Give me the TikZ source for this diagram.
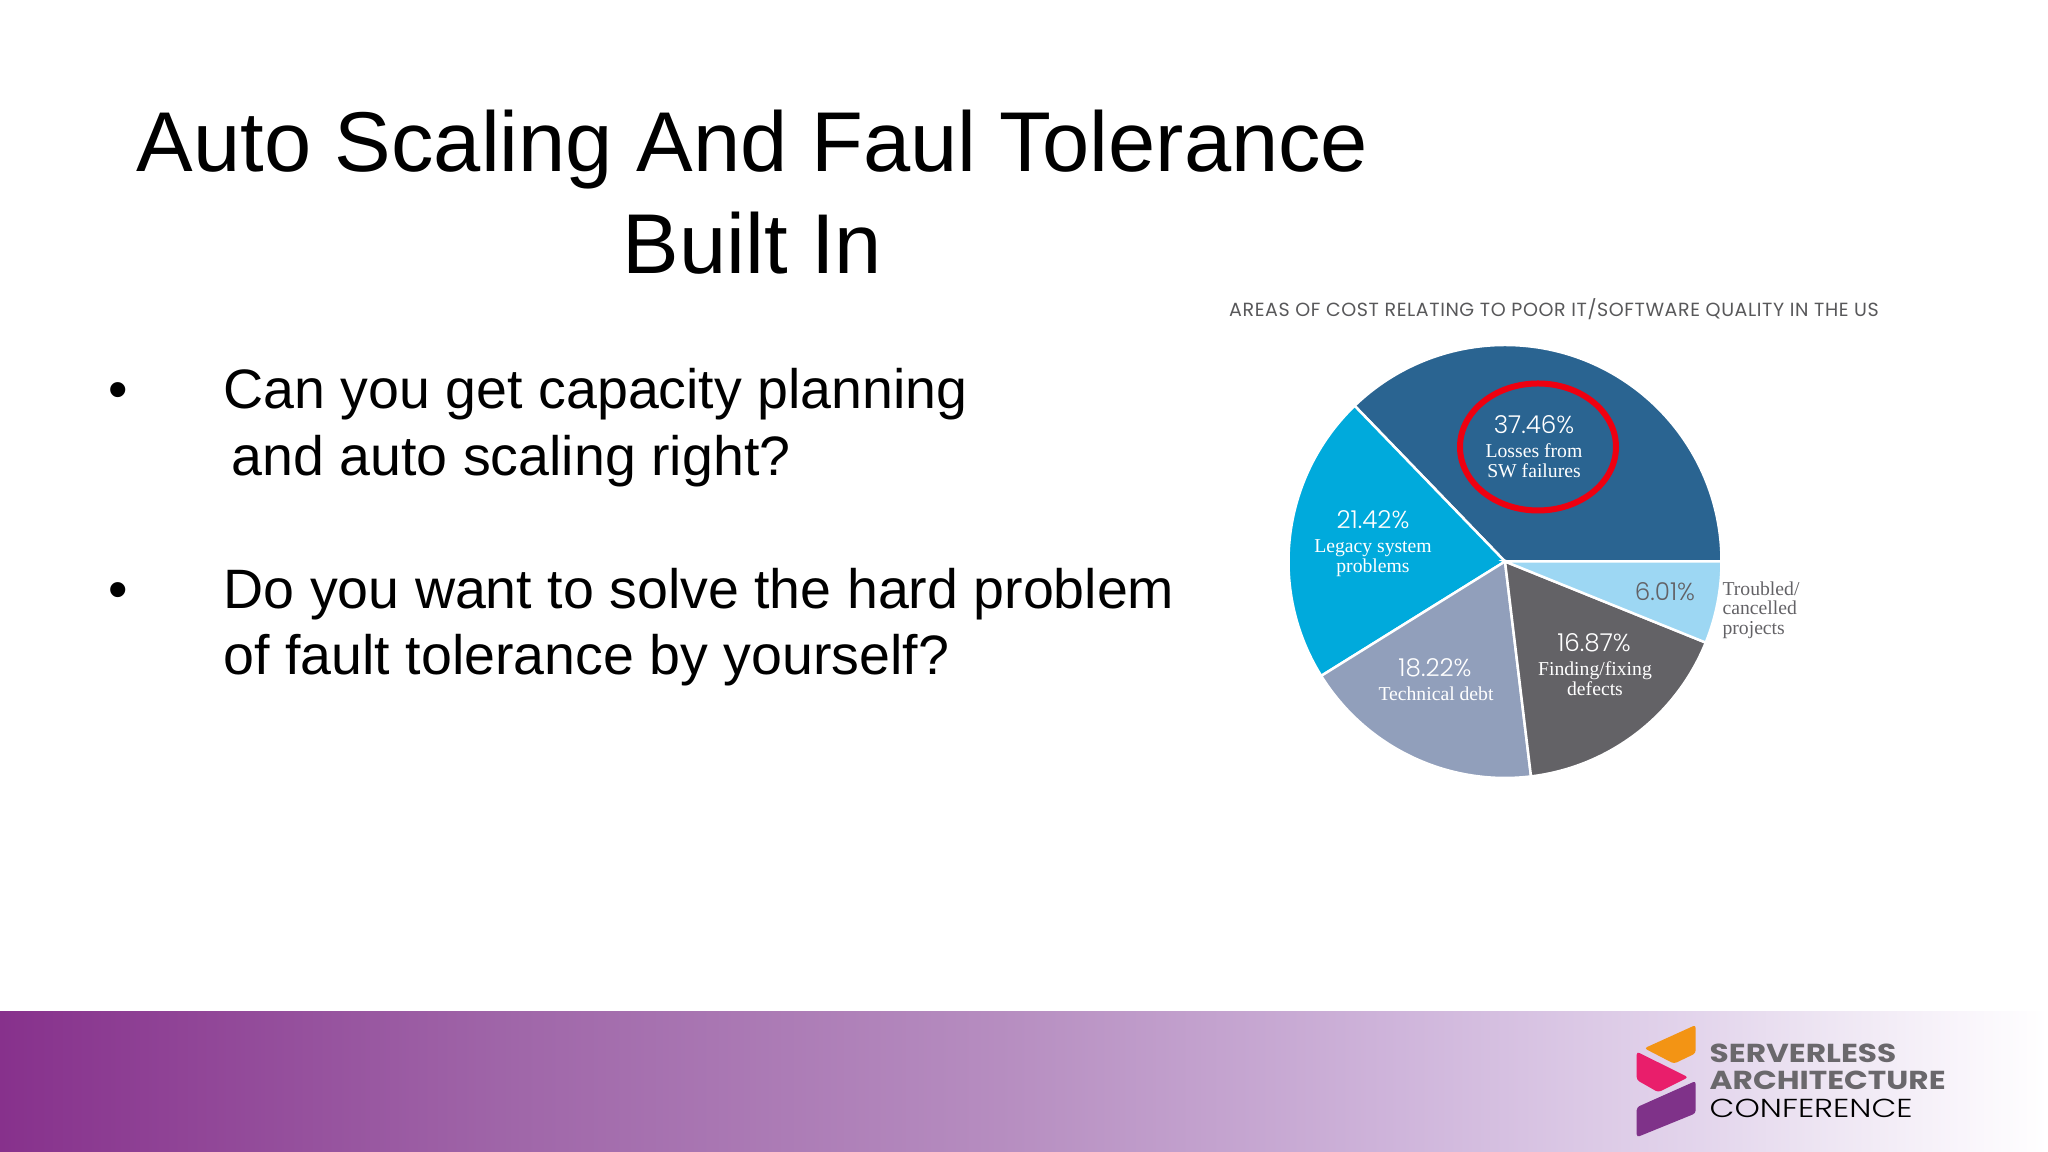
\documentclass[tikz,border=0pt]{standalone}
\usepackage{fontspec}
\setmainfont{Liberation Sans}
\newfontfamily\slicefont{Liberation Serif}
\newfontfamily\numfont{Poppins Light}
\newfontfamily\capfont[LetterSpace=3]{Poppins}
\newfontfamily\logofont[FakeStretch=1.2]{Poppins}
\newfontfamily\logolight[FakeStretch=1.24]{Poppins Light}
\definecolor{slicedark}{HTML}{2A6491}
\definecolor{slicecyan}{HTML}{00AADC}
\definecolor{sliceslate}{HTML}{919FBB}
\definecolor{slicegray}{HTML}{636266}
\definecolor{slicelight}{HTML}{9DD7F3}
\definecolor{titlegray}{HTML}{58585A}
\definecolor{ringred}{HTML}{EE0010}
\definecolor{logoorange}{HTML}{F39414}
\definecolor{logopink}{HTML}{E91E6B}
\definecolor{logoviolet}{HTML}{7F3289}
\definecolor{logogray}{HTML}{6A686C}
\definecolor{barone}{HTML}{87318C}
\definecolor{bartwo}{HTML}{9F65A8}
\definecolor{barthree}{HTML}{B68DC0}
\definecolor{barfour}{HTML}{CFB5DB}
\definecolor{barfive}{HTML}{E3D5EC}
\definecolor{barsix}{HTML}{EEE6F3}
\definecolor{barseven}{HTML}{F9F5FB}
\pgfdeclarehorizontalshading{barshade}{100bp}{
  color(0bp)=(barone);
  color(25bp)=(barone);
  color(37.2bp)=(bartwo);
  color(49.4bp)=(barthree);
  color(59.2bp)=(barfour);
  color(66.5bp)=(barfive);
  color(69.7bp)=(barsix);
  color(72.9bp)=(barseven);
  color(75bp)=(white);
  color(100bp)=(white)}
\tikzset{
  headline/.style={anchor=base west,inner sep=0pt,font=\fontsize{24.15}{29}\selectfont},
  bodyline/.style={anchor=base west,inner sep=0pt,font=\fontsize{15.8}{19}\selectfont},
  percent/.style={anchor=center,text=white,font=\numfont\fontsize{7}{8}\selectfont},
  sliceword/.style={anchor=center,text=white,align=center,font=\slicefont\fontsize{5.6}{5.6}\selectfont},
  slice/.style={draw=white,line width=0.025cm},
  logotext/.style={anchor=base west,inner sep=0pt,text=logogray,font=\logofont\bfseries\fontsize{7.4}{8}\selectfont},
}
\begin{document}
\begin{tikzpicture}
\useasboundingbox (0,0) rectangle (20.48,11.52);
% footer bar
\shade[shading=barshade] (0,0) rectangle (20.48,1.40);
% headline
\node[headline] (title1) at (1.36,9.80){Auto Scaling And Faul Tolerance};
\node[headline] (title2) at (6.22,8.78){Built In};
% bullets
\node[bodyline] (dot1) at (1.08,7.43){\textbullet};
\node[bodyline] (line1) at (2.23,7.43){Can you get capacity planning};
\node[bodyline] (line2) at (2.31,6.76){and auto scaling right?};
\node[bodyline] (dot2) at (1.08,5.43){\textbullet};
\node[bodyline] (line3) at (2.23,5.43){Do you want to solve the hard problem};
\node[bodyline] (line4) at (2.23,4.77){of fault tolerance by yourself?};
% pie
\node[anchor=center,text=titlegray,font=\capfont\fontsize{5.42}{6}\selectfont] (pietitle) at (15.54,8.43){AREAS OF COST RELATING TO POOR IT/SOFTWARE QUALITY IN THE US};
\begin{scope}[shift={(15.05,5.905)}]
\filldraw[slice,fill=slicedark] (0,0) -- (0:2.165) arc[start angle=0,end angle=134,radius=2.165] -- cycle;
\filldraw[slice,fill=slicecyan] (0,0) -- (134:2.165) arc[start angle=134,end angle=211.9,radius=2.165] -- cycle;
\filldraw[slice,fill=sliceslate] (0,0) -- (211.9:2.165) arc[start angle=211.9,end angle=276.9,radius=2.165] -- cycle;
\filldraw[slice,fill=slicegray] (0,0) -- (276.9:2.165) arc[start angle=276.9,end angle=338,radius=2.165] -- cycle;
\filldraw[slice,fill=slicelight] (0,0) -- (338:2.165) arc[start angle=338,end angle=360,radius=2.165] -- cycle;
\end{scope}
\draw[ringred,line width=0.06cm] (15.38,7.05) ellipse (0.78 and 0.635);
% slice labels
\node[percent] (pct1) at (15.34,7.27){37.46\%};
\node[sliceword] (word1) at (15.34,6.91){Losses from\\SW failures};
\node[percent] (pct2) at (13.73,6.32){21.42\%};
\node[sliceword] (word2) at (13.73,5.94){Legacy system\\problems};
\node[percent] (pct3) at (14.35,4.84){18.22\%};
\node[sliceword] (word3) at (14.36,4.58){Technical debt};
\node[percent] (pct4) at (15.94,5.09){16.87\%};
\node[sliceword] (word4) at (15.95,4.73){Finding/fixing\\defects};
\node[percent,text=slicegray] (pct5) at (16.65,5.60){6.01\%};
\node[sliceword,text=slicegray,align=left] (word5) at (17.61,5.42){Troubled/\\cancelled\\projects};
% logo
\fill[logoorange,rounded corners=0.03cm] (16.443,1.037) -- (16.957,1.27) -- (16.957,0.987) -- (16.74,0.883) -- cycle;
\fill[logopink,rounded corners=0.03cm] (16.367,1.003) -- (16.883,0.747) -- (16.583,0.597) -- (16.367,0.72) -- cycle;
\fill[logoviolet,rounded corners=0.03cm] (16.957,0.71) -- (16.957,0.387) -- (16.367,0.147) -- (16.367,0.447) -- cycle;
\node[logotext] (logo1) at (17.09,0.893){SERVERLESS};
\node[logotext] (logo2) at (17.09,0.62){ARCHITECTURE};
\node[logotext,text=black,font=\logolight\fontsize{7.4}{8}\selectfont] (logo3) at (17.09,0.347){CONFERENCE};
\end{tikzpicture}
\end{document}
